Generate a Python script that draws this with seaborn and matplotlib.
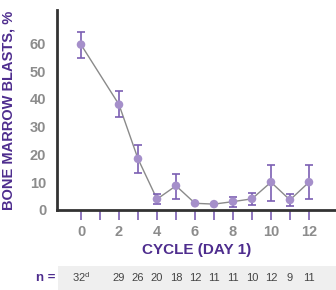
import numpy as np
import pandas as pd
import matplotlib
matplotlib.use("Agg")
import matplotlib.pyplot as plt
import matplotlib.transforms as mtransforms
from matplotlib.patches import Rectangle
import seaborn as sns

# 데이터
cycles = [0, 2, 3, 4, 5, 6, 7, 8, 9, 10, 11, 12]
blasts = [59.5, 37.9, 18.4, 3.9, 8.7, 2.4, 2.1, 3.0, 4.0, 10.0, 3.6, 10.0]
err_low = [54.8, 33.3, 13.2, 2.1, 4.0, 2.4, 2.1, 1.2, 1.8, 3.2, 1.4, 3.9]
err_high = [64.0, 42.9, 23.5, 5.7, 13.0, 2.4, 2.1, 4.8, 6.1, 16.1, 5.7, 16.1]
n_labels = ["32$^{\\mathregular{d}}$", "29", "26", "20", "18", "12", "11", "11", "10", "12", "9", "11"]
y_ticks = [0, 10, 20, 30, 40, 50, 60]
x_ticks = [0, 2, 4, 6, 8, 10, 12]

PURPLE = "#a58fca"
DARK_PURPLE = "#7b5fb3"
TITLE_PURPLE = "#4e2d8e"
GRAY = "#8c8c8c"

df = pd.DataFrame({"cycle": cycles, "blasts": blasts})

sns.set_style("white")
plt.rcParams["font.family"] = ["Liberation Sans", "DejaVu Sans"]

fig = plt.figure(figsize=(3.36, 2.90), dpi=100)
ax = fig.add_axes([0.171, 0.276, 0.826, 0.690])

# 선
sns.lineplot(data=df, x="cycle", y="blasts", color="#8a8a8a", linewidth=1, ax=ax, zorder=2)

# 오차 막대
yerr = np.array([np.array(blasts) - np.array(err_low), np.array(err_high) - np.array(blasts)])
ax.errorbar(cycles, blasts, yerr=yerr, fmt="none", ecolor=DARK_PURPLE,
            elinewidth=1.2, capsize=3, capthick=1.2, zorder=3)

# 점
sns.scatterplot(data=df, x="cycle", y="blasts", color=PURPLE, s=38,
                edgecolor="none", ax=ax, zorder=4)

ax.set_xlim(-1.24, 13.37)
ax.set_ylim(0, 72)
ax.set_yticks(y_ticks)
ax.set_xticks(x_ticks)
ax.set_xticks([c for c in range(1, 13, 2)], minor=True)

ax.tick_params(axis="both", which="both", direction="out", color=DARK_PURPLE,
               labelcolor=GRAY, labelsize=10.5, width=1.2)
ax.tick_params(axis="y", length=5, pad=3)
ax.tick_params(axis="x", which="both", length=7, pad=4, bottom=True)
for lab in ax.get_xticklabels() + ax.get_yticklabels():
    lab.set_fontweight("bold")

for side in ["top", "right"]:
    ax.spines[side].set_visible(False)
for side in ["left", "bottom"]:
    ax.spines[side].set_color("#333333")
    ax.spines[side].set_linewidth(2)

ax.set_xlabel("CYCLE (DAY 1)", fontsize=11, fontweight="bold", color=TITLE_PURPLE, labelpad=3)
ax.set_ylabel("BONE MARROW BLASTS, %", fontsize=10.5, fontweight="bold", color=TITLE_PURPLE, labelpad=10)

# n = 줄
fig.add_artist(Rectangle((0.173, 0.0), 0.827, 0.083, transform=fig.transFigure,
                         facecolor="#efefef", edgecolor="none", zorder=-1))
fig.text(0.135, 0.043, "n =", ha="center", va="center", fontsize=9.5,
         fontweight="bold", color=TITLE_PURPLE, zorder=5)
trans = mtransforms.blended_transform_factory(ax.transData, fig.transFigure)
for c, lab in zip(cycles, n_labels):
    fig.text(c, 0.043, lab, transform=trans, ha="center", va="center",
             fontsize=8, color="#444444", zorder=5)

fig.savefig("out.png", dpi=100)
